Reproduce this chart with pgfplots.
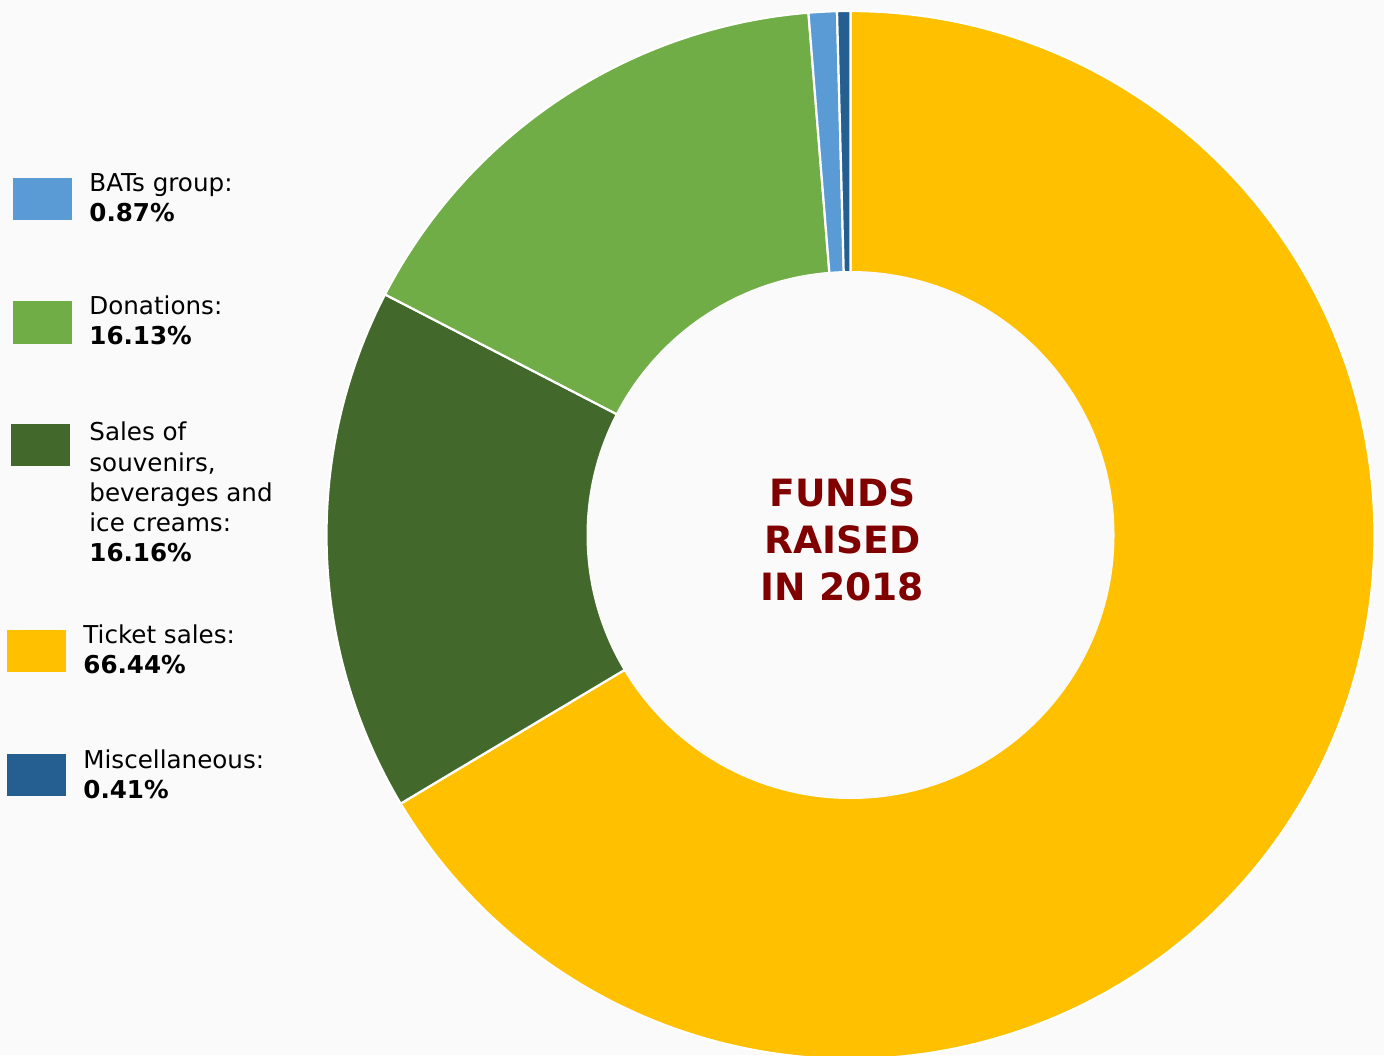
\documentclass[border=0pt]{standalone}
\usepackage{fontspec}
\setmainfont{DejaVu Sans}
\usepackage{pgfplots}
\pgfplotsset{compat=1.18}
\usepackage{pgfplotstable}

\definecolor{bgc}{HTML}{FAFAFA}
\definecolor{cbats}{HTML}{5B9BD5}
\definecolor{cdon}{HTML}{70AD47}
\definecolor{csou}{HTML}{43682B}
\definecolor{ctic}{HTML}{FFC000}
\definecolor{cmis}{HTML}{255E91}
\definecolor{ctitle}{HTML}{800000}

% shares in %, in the order they run counterclockwise from 12 o'clock
\pgfplotstableread{
key share
misc 0.41
bats 0.87
donations 16.13
souvenirs 16.16
tickets 66.44
}\funds

% one ring slice: colour, start angle, end angle (inner part is blanked later)
\newcommand\slice[3]{%
  \addplot[fill=#1, draw=white, line width=1.1pt, domain=#2:#3, samples=200, variable=\t]
    ({850.5+524*cos(t)},{520+524*sin(t)}) -- (axis cs:850.5,520) -- cycle;}
\newcommand\legline[4][]{%
  \node[anchor=base west, inner sep=0pt, font=\fontsize{12.3}{14}\selectfont#1] at (axis cs:#2,#3) {#4};}
\newcommand\legbox[4]{%
  \fill[#1] (axis cs:#2,#3) rectangle (axis cs:#2+59,#4);}

\begin{document}
\begin{tikzpicture}
\pgfplotstablegetelem{0}{share}\of\funds \let\sA\pgfplotsretval
\pgfplotstablegetelem{1}{share}\of\funds \let\sB\pgfplotsretval
\pgfplotstablegetelem{2}{share}\of\funds \let\sC\pgfplotsretval
\pgfplotstablegetelem{3}{share}\of\funds \let\sD\pgfplotsretval
\pgfplotstablegetelem{4}{share}\of\funds \let\sE\pgfplotsretval
\pgfmathsetmacro\tot{\sA+\sB+\sC+\sD+\sE}
\pgfmathsetmacro\aA{90}
\pgfmathsetmacro\aB{\aA+\sA/\tot*360}
\pgfmathsetmacro\aC{\aB+\sB/\tot*360}
\pgfmathsetmacro\aD{\aC+\sC/\tot*360}
\pgfmathsetmacro\aE{\aD+\sD/\tot*360}
\pgfmathsetmacro\aF{\aE+\sE/\tot*360}
\begin{axis}[
	at={(0,0)}, anchor=south west,
	scale only axis,
	width=692pt,
	height=527.5pt,
	xmin=0, xmax=1384,
	ymin=0, ymax=1055,
	axis lines=none,
	xtick=\empty, ytick=\empty,
]
\fill[bgc] (rel axis cs:0,0) rectangle (rel axis cs:1,1);

\slice{ctic}{\aE}{\aF}
\slice{csou}{\aD}{\aE}
\slice{cdon}{\aC}{\aD}
\slice{cbats}{\aB}{\aC}
\slice{cmis}{\aA}{\aB}
\fill[bgc] (axis cs:850.5,520) circle[radius=132pt];

\node[anchor=base, inner sep=0pt, text=ctitle, font=\bfseries\fontsize{18.8}{22}\selectfont] at (axis cs:842.5,548) {FUNDS};
\node[anchor=base, inner sep=0pt, text=ctitle, font=\bfseries\fontsize{18.8}{22}\selectfont] at (axis cs:842.5,501) {RAISED};
\node[anchor=base, inner sep=0pt, text=ctitle, font=\bfseries\fontsize{18.8}{22}\selectfont] at (axis cs:842.5,455) {IN 2018};

% legend
\legbox{cbats}{13}{835}{877}
\legline{89}{863}{BATs group:}
\legline[\bfseries]{89}{833}{0.87\%}

\legbox{cdon}{13}{711}{754}
\legline{89}{740}{Donations:}
\legline[\bfseries]{89}{710}{16.13\%}

\legbox{csou}{11}{589}{631}
\legline{89}{614}{Sales of}
\legline{89}{583.8}{souvenirs,}
\legline{89}{553.6}{beverages and}
\legline{89}{523.4}{ice creams:}
\legline[\bfseries]{89}{493.2}{16.16\%}

\legbox{ctic}{7}{383}{425}
\legline{83}{412}{Ticket sales:}
\legline[\bfseries]{83}{382}{66.44\%}

\legbox{cmis}{7}{259}{301}
\legline{83}{287}{Miscellaneous:}
\legline[\bfseries]{83}{257}{0.41\%}
\end{axis}
\end{tikzpicture}
\end{document}
